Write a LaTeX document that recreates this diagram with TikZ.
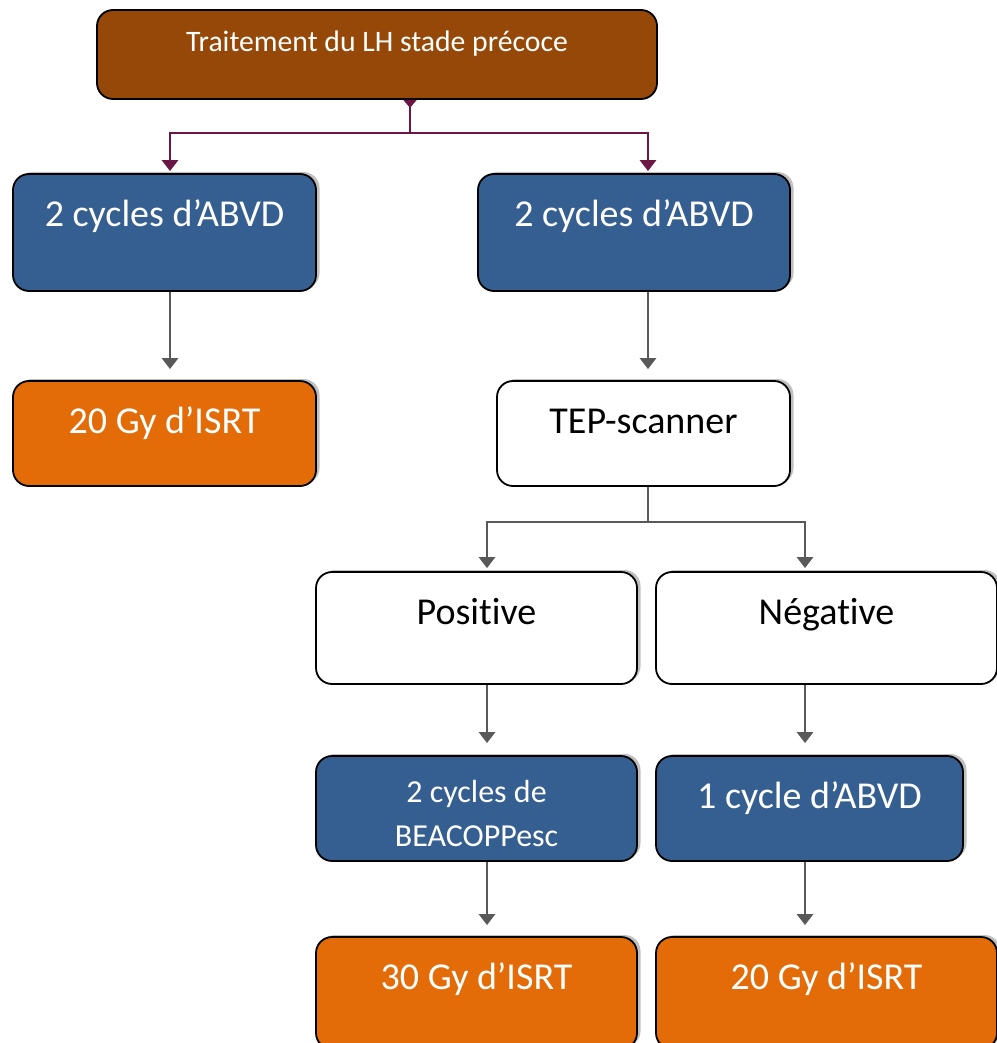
\documentclass[tikz,border=0pt]{standalone}
\usepackage{fontspec}
\setmainfont{Carlito}[Ligatures={NoCommon,NoContextual}]
\usetikzlibrary{arrows.meta,shadows}
\definecolor{brownfill}{RGB}{150,72,8}
\definecolor{bluefill}{RGB}{54,95,145}
\definecolor{orangefill}{RGB}{227,108,9}
\definecolor{plum}{RGB}{108,22,70}
\definecolor{arrowgray}{RGB}{89,89,89}
\begin{document}
\begin{tikzpicture}[x=1pt, y=-1pt,
    plainbox/.style = {draw=black, line width=1.8pt, rounded corners=16pt, inner sep=0pt, align=center,
        font=\fontsize{38}{44}\selectfont, text height=52pt},
    box/.style = {plainbox, drop shadow={shadow xshift=3.5pt, shadow yshift=2pt, fill=black!50, opacity=.5}},
    bluebox/.style = {box, fill=bluefill, text=white},
    orangebox/.style = {box, fill=orangefill, text=white},
    whitebox/.style = {box, fill=white, text=black},
    tall/.style = {minimum height=117pt, text depth=65pt},
    mid/.style = {minimum height=112pt, text depth=60pt},
    low/.style = {minimum height=105pt, text depth=53pt},
    plink/.style = {draw=plum, line width=2.8pt},
    glink/.style = {draw=arrowgray, line width=2.8pt},
    tip/.style = {-{Triangle[width=16pt,length=11pt]}}]
    \useasboundingbox (0,0) rectangle (996,1043);
    % top of the tree
    \node[plainbox, fill=brownfill, text=white, font=\fontsize{29.7}{35}\selectfont,
          minimum width=560pt, minimum height=89pt, text height=42pt, text depth=47pt]
          (title) at (377,54.5) {Traitement du LH stade précoce};
    \node[bluebox, tall, minimum width=303pt] (abvdL) at (164.5,232.5) {2 cycles d’ABVD};
    \node[bluebox, tall, minimum width=312pt] (abvdR) at (634,232.5) {2 cycles d’ABVD};
    \node[orangebox, low, minimum width=303pt] (isrtL) at (164.5,433.5) {20 Gy d’ISRT};
    \node[whitebox, low, minimum width=293pt] (tep) at (643.5,433.5) {TEP-scanner};
    % after the TEP
    \node[whitebox, mid, minimum width=321pt] (pos) at (476.5,628) {Positive};
    \node[whitebox, mid, minimum width=341pt] (neg) at (826.5,628) {Négative};
    \node[bluebox, low, minimum width=321pt, font=\fontsize{32}{44}\selectfont,
          text height=90pt, text depth=15pt] (beac) at (476.5,808.5) {2 cycles de\\BEACOPPesc};
    \node[bluebox, low, minimum width=307pt] (one) at (809.5,808.5) {1 cycle d’ABVD};
    \node[orangebox, mid, minimum width=321pt] (isrtM) at (476.5,993) {30 Gy d’ISRT};
    \node[orangebox, mid, minimum width=341pt] (isrtR) at (826.5,993) {20 Gy d’ISRT};
    \coordinate (fork1) at (410,133);
    \coordinate (fork2) at (648,522);
    % connectors
    \draw[plink, {Triangle[reversed,width=13pt,length=8pt]}-] (title.south -| fork1) -- (fork1);
    \draw[plink, tip, shorten >=2pt] (fork1) -| ([xshift=5.5pt]abvdL.north);
    \draw[plink, tip, shorten >=2pt] (fork1) -| ([xshift=14pt]abvdR.north);
    \draw[glink, tip, shorten >=11pt] ([xshift=5.5pt]abvdL.south) -- ([xshift=5.5pt]isrtL.north);
    \draw[glink, tip, shorten >=11pt] ([xshift=14pt]abvdR.south) -- ([xshift=14pt]abvdR.south |- tep.north);
    \draw[glink] (tep.south -| fork2) -- (fork2);
    \draw[glink, tip, shorten >=3pt] (fork2) -| ([xshift=10.5pt]pos.north);
    \draw[glink, tip, shorten >=3pt] (fork2) -| ([xshift=-21.5pt]neg.north);
    \draw[glink, tip, shorten >=12pt] ([xshift=10.5pt]pos.south) -- ([xshift=10.5pt]beac.north);
    \draw[glink, tip, shorten >=12pt] ([xshift=-21.5pt]neg.south) -- ([xshift=-21.5pt]neg.south |- one.north);
    \draw[glink, tip, shorten >=11pt] ([xshift=10.5pt]beac.south) -- ([xshift=10.5pt]isrtM.north);
    \draw[glink, tip, shorten >=11pt] ([xshift=-4.5pt]one.south) -- ([xshift=-4.5pt]one.south |- isrtR.north);
\end{tikzpicture}
\end{document}
